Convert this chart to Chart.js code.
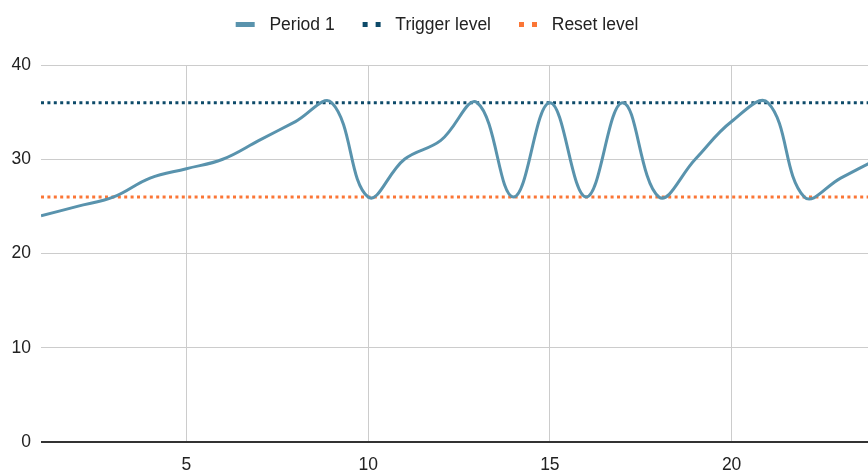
<!DOCTYPE html>
<html>
<head>
<meta charset="utf-8">
<script src="https://cdn.jsdelivr.net/npm/chart.js@4.4.1/dist/chart.umd.min.js"></script>
<style>
  html, body { margin: 0; padding: 0; background: #fff; overflow: hidden; }
  #wrap { width: 880px; height: 480px; }
</style>
</head>
<body>
<div id="wrap"><canvas id="chart"></canvas></div>
<script>
// data
var periods = [1, 2, 3, 4, 5, 6, 7, 8, 9, 10, 11, 12, 13, 14, 15, 16, 17, 18, 19, 20, 21, 22, 23, 24];
var period1 = [24, 25, 26, 28, 29, 30, 32, 34, 36, 26, 30, 32, 36, 26, 36, 26, 36, 26, 30, 34, 36, 26, 28, 30];
var triggerLevel = 36;
var resetLevel = 26;
var xTicks = [5, 10, 15, 20];

var blue = '#5993ad';
var navy = '#0d4a69';
var orange = '#fb7636';
var fontFamily = "'Liberation Sans', Arial, sans-serif";

// legend swatch: transparent margin on the left keeps the items apart
function swatch(color, dotted) {
   var c = document.createElement('canvas');
   c.width = 42; c.height = 5;
   var g = c.getContext('2d');
   g.fillStyle = color;
   if (dotted) {
      g.fillRect(18, 0, 5, 5);
      g.fillRect(31, 0, 5, 5);
   } else {
      g.fillRect(17, 0, 19, 5);
   }
   return c;
}

var series = [];
for (var i = 0; i < periods.length; i++) {
   series.push({x: periods[i], y: period1[i]});
}
var first = periods[0], last = periods[periods.length - 1];

var legendSpace = {
   id: 'legendSpace',
   beforeInit: function(chart) {
      var fit = chart.legend.fit;
      chart.legend.fit = function() {
         fit.bind(chart.legend)();
         this.height = 59;
      };
   },
   afterLayout: function(chart) {
      // nudge the legend row a little to the left
      chart.legend.left -= 10;
      chart.legend.right -= 10;
   }
};

new Chart(document.getElementById('chart'), {
   type: 'line',
   plugins: [legendSpace],
   data: {
      datasets: [{
         label: 'Period 1',
         data: series,
         borderColor: blue,
         backgroundColor: blue,
         borderWidth: 3,
         tension: 0.4,
         pointRadius: 0,
         pointStyle: swatch(blue, false)
      }, {
         label: 'Trigger level',
         data: [{x: first, y: triggerLevel}, {x: last, y: triggerLevel}],
         borderColor: navy,
         backgroundColor: navy,
         borderWidth: 3,
         borderDash: [3, 3.4],
         pointRadius: 0,
         pointStyle: swatch(navy, true)
      }, {
         label: 'Reset level',
         data: [{x: first, y: resetLevel}, {x: last, y: resetLevel}],
         borderColor: orange,
         backgroundColor: orange,
         borderWidth: 3,
         borderDash: [3, 3.4],
         pointRadius: 0,
         pointStyle: swatch(orange, true)
      }]
   },
   options: {
      responsive: true,
      maintainAspectRatio: false,
      animation: false,
      layout: {padding: {top: 6, right: 3, left: 0, bottom: 0}},
      plugins: {
         tooltip: {enabled: false},
         legend: {
            position: 'top',
            labels: {
               usePointStyle: true,
               pointStyleWidth: 42,
               padding: 10,
               color: '#222',
               font: {family: fontFamily, size: 17.5}
            }
         }
      },
      scales: {
         x: {
            type: 'linear',
            min: first,
            max: last,
            afterBuildTicks: function(scale) {
               scale.ticks = xTicks.map(function(v) { return {value: v}; });
            },
            afterFit: function(scale) { scale.height = 38; },
            grid: {color: '#cccccc', lineWidth: 1, drawTicks: false},
            border: {display: false},
            ticks: {
               padding: 13,
               color: '#222',
               maxRotation: 0,
               font: {family: fontFamily, size: 17.5}
            }
         },
         y: {
            min: 0,
            max: 40,
            afterFit: function(scale) { scale.width = 41; },
            grid: {
               drawTicks: false,
               color: function(ctx) { return ctx.tick && ctx.tick.value === 0 ? '#333333' : '#cccccc'; },
               lineWidth: function(ctx) { return ctx.tick && ctx.tick.value === 0 ? 2 : 1; }
            },
            border: {display: false},
            ticks: {
               stepSize: 10,
               padding: 10,
               color: '#222',
               font: {family: fontFamily, size: 17.5}
            }
         }
      }
   }
});
</script>
</body>
</html>
